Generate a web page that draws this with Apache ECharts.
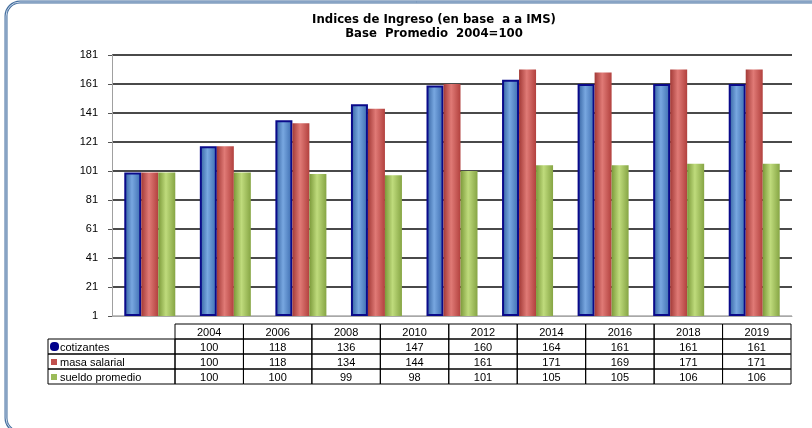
<!DOCTYPE html>
<html>
<head>
<meta charset="utf-8">
<script src="https://cdn.jsdelivr.net/npm/echarts@6/dist/echarts.min.js"></script>
<style>
  html, body { margin: 0; padding: 0; background: #fff; }
  #main { width: 812px; height: 428px; }
</style>
</head>
<body>
<div id="main"></div>
<script>
"use strict";

const years = ["2004", "2006", "2008", "2010", "2012", "2014", "2016", "2018", "2019"];
const cotizantes = [100, 118, 136, 147, 160, 164, 161, 161, 161];
const masaSalarial = [100, 118, 134, 144, 161, 171, 169, 171, 171];
const sueldoPromedio = [100, 100, 99, 98, 101, 105, 105, 106, 106];
const seriesNames = ["cotizantes", "masa salarial", "sueldo promedio"];

// the Excel value axis starts at 1 (ticks 1, 21, ... 181)
const axisBase = 1;
const axisTop = 181;
const axisStep = 20;

const chartDom = document.getElementById("main");
const myChart = echarts.init(chartDom);

const font = "Liberation Sans, Arial, sans-serif";
const titleFont = "'DejaVu Sans Condensed', 'Liberation Sans Narrow', 'Liberation Sans', sans-serif";

function cylinder(dark, light, mid) {
  return new echarts.graphic.LinearGradient(0, 0, 1, 0, [
    { offset: 0, color: dark },
    { offset: 0.45, color: light },
    { offset: 1, color: mid },
  ]);
}

const seriesData = [cotizantes, masaSalarial, sueldoPromedio];
const seriesColors = [
  cylinder("#2f5d9c", "#78a7e0", "#3a6aae"),
  cylinder("#a33a37", "#e07a76", "#b2413e"),
  cylinder("#7c9a3a", "#bfdb7c", "#86a544"),
];
const keyColors = ["#00008b", "#c0504d", "#9bbb59"];

// data table under the chart
const tableLeft = 48;
const catLeft = 175;
const tableRight = 791;
const colW = (tableRight - catLeft) / years.length;
const rowTop = 324;
const rowH = 15;

const tableGraphics = [];
// header cells
years.forEach((y, i) => {
  tableGraphics.push({
    type: "rect",
    shape: { x: catLeft + i * colW, y: rowTop, width: colW, height: rowH },
    style: { fill: "none", stroke: "#000", lineWidth: 1 },
  });
  tableGraphics.push({
    type: "text",
    style: {
      text: y, x: catLeft + (i + 0.5) * colW, y: rowTop + rowH / 2 + 1,
      align: "center", verticalAlign: "middle", font: "11px " + font, fill: "#000",
    },
  });
});
seriesNames.forEach((name, r) => {
  const top = rowTop + (r + 1) * rowH;
  tableGraphics.push({
    type: "rect",
    shape: { x: tableLeft, y: top, width: catLeft - tableLeft, height: rowH },
    style: { fill: "none", stroke: "#000", lineWidth: 1 },
  });
  if (r === 0) {
    tableGraphics.push({
      type: "rect",
      shape: { x: tableLeft + 2, y: top + 3, width: 9, height: 9, r: 4 },
      style: { fill: keyColors[r] },
    });
  } else {
    tableGraphics.push({
      type: "rect",
      shape: { x: tableLeft + 3, y: top + 5, width: 6, height: 6 },
      style: { fill: keyColors[r] },
    });
  }
  tableGraphics.push({
    type: "text",
    style: {
      text: name, x: tableLeft + 12, y: top + rowH / 2 + 1,
      align: "left", verticalAlign: "middle", font: "11px " + font, fill: "#000",
    },
  });
  seriesData[r].forEach((v, i) => {
    tableGraphics.push({
      type: "rect",
      shape: { x: catLeft + i * colW, y: top, width: colW, height: rowH },
      style: { fill: "none", stroke: "#000", lineWidth: 1 },
    });
    tableGraphics.push({
      type: "text",
      style: {
        text: String(v), x: catLeft + (i + 0.5) * colW, y: top + rowH / 2 + 1,
        align: "center", verticalAlign: "middle", font: "11px " + font, fill: "#000",
      },
    });
  });
});

const gridColors = [];
for (let v = axisBase; v <= axisTop; v += axisStep) {
  gridColors.push(v === axisBase ? "#c0c0c0" : "#4a4a4a");
}

const option = {
  animation: false,
  backgroundColor: "#fff",
  title: {
    text: "Indices de Ingreso (en base  a a IMS)\nBase  Promedio  2004=100",
    left: 429,
    textAlign: "center",
    top: 8,
    textStyle: {
      fontFamily: titleFont,
      fontWeight: "bold",
      fontSize: 13,
      lineHeight: 14,
      color: "#000",
    },
  },
  grid: {
    left: 112,
    right: 20,
    top: 55,
    bottom: 112,
  },
  xAxis: {
    type: "category",
    data: years,
    axisLabel: { show: false },
    axisTick: { show: false },
    axisLine: { lineStyle: { color: "#a8a8a8", width: 1 } },
  },
  yAxis: {
    type: "value",
    min: 0,
    max: axisTop - axisBase,
    interval: axisStep,
    axisLine: { show: true, lineStyle: { color: "#a0a0a0" } },
    axisTick: { show: true, length: 4, lineStyle: { color: "#555" } },
    axisLabel: {
      color: "#000",
      fontFamily: font,
      fontSize: 11,
      margin: 14,
      formatter: (v) => String(v + axisBase),
    },
    splitLine: {
      lineStyle: { color: gridColors, width: 2 },
    },
  },
  series: seriesNames.map((name, s) => ({
    name: name,
    type: "bar",
    data: seriesData[s].map((v) => v - axisBase),
    barWidth: 17,
    barGap: "0%",
    itemStyle: {
      color: seriesColors[s],
      borderColor: s === 0 ? "#0a0a8a" : "transparent",
      borderWidth: s === 0 ? 2 : 0,
    },
  })),
  graphic: [
    {
      type: "rect",
      shape: { x: 6, y: 2, width: 900, height: 430, r: 14 },
      style: { fill: "none", stroke: "#46709f", lineWidth: 3 },
      z: 10,
    },
    {
      type: "rect",
      shape: { x: 6, y: 2, width: 900, height: 430, r: 14 },
      style: { fill: "none", stroke: "#c9d7ea", lineWidth: 1 },
      z: 11,
    },
    {
      type: "group",
      children: tableGraphics,
    },
  ],
};

option && myChart.setOption(option);
</script>
</body>
</html>
